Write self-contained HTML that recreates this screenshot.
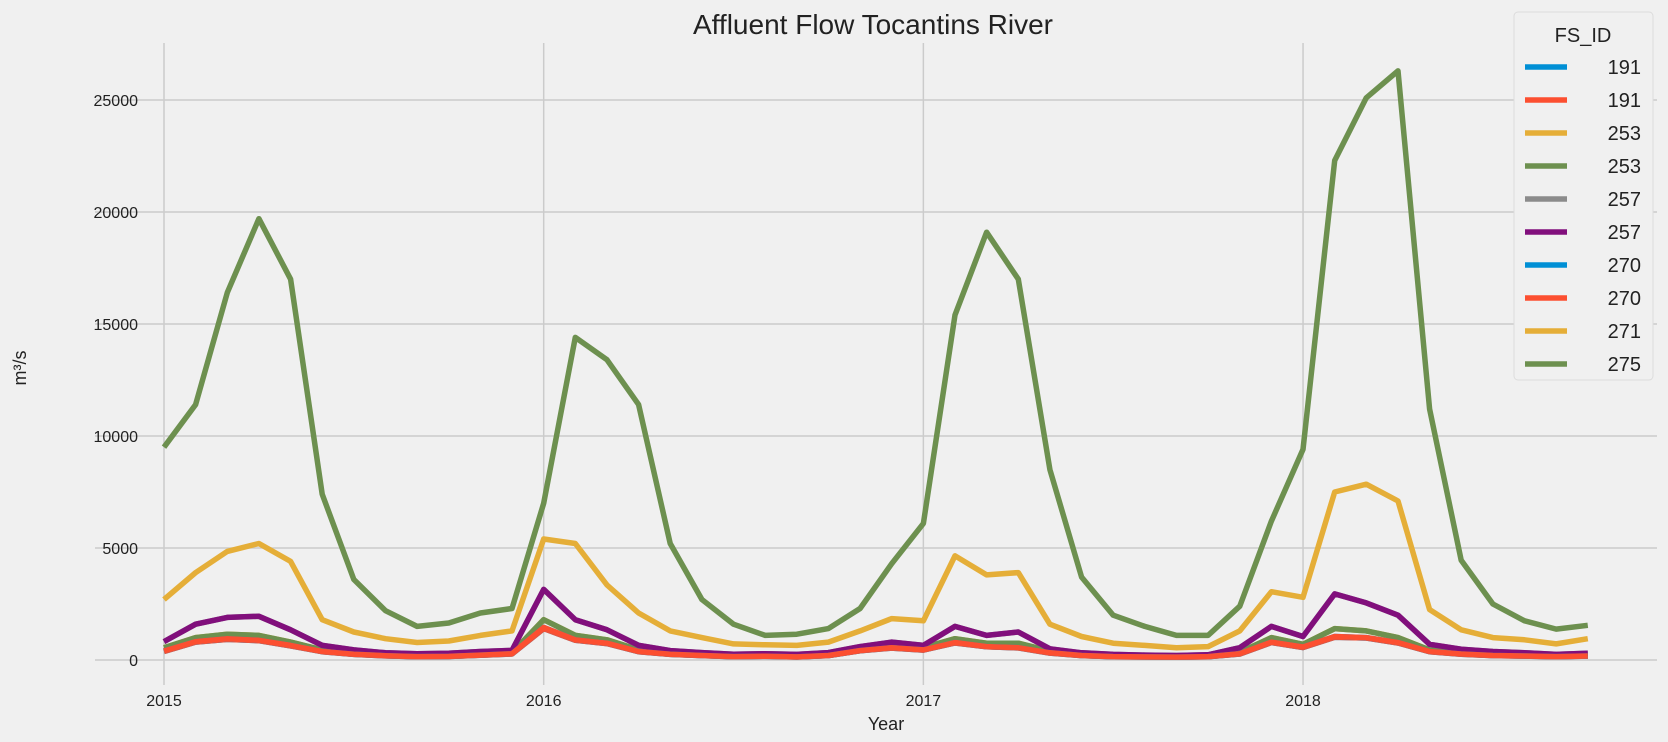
<!DOCTYPE html>
<html><head><meta charset="utf-8"><style>
html,body{margin:0;padding:0;background:#f0f0f0;}
svg{display:block;font-family:"Liberation Sans","DejaVu Sans",sans-serif;}
</style></head><body>
<svg id="chart" width="1668" height="742" xmlns="http://www.w3.org/2000/svg">
<rect width="1668" height="742" fill="#f0f0f0"/>
<text x="873" y="34" font-size="28" text-anchor="middle" fill="#222">Affluent Flow Tocantins River</text>
<g id="grid"></g>
<g id="series"></g>
<text x="886" y="730" font-size="18" text-anchor="middle" fill="#222">Year</text>
<text transform="translate(26,368) rotate(-90)" font-size="18" text-anchor="middle" fill="#222">m³/s</text>
<g id="legend"></g>
</svg>
<script>
const yTicks = [0, 5000, 10000, 15000, 20000, 25000];
const xTickLabels = ["2015", "2016", "2017", "2018"];
const s275 = [9500,11400,16400,19700,17000,7400,3600,2200,1500,1650,2100,2300,
 7000,14400,13400,11400,5200,2700,1600,1100,1150,1400,2300,4300,
 6100,15400,19100,17000,8500,3700,2000,1500,1100,1100,2400,6200,
 9400,22300,25100,26300,11200,4450,2500,1750,1380,1550];
const s271 = [2700,3900,4850,5200,4400,1800,1250,950,780,850,1100,1300,
 5400,5200,3350,2100,1300,1000,720,680,650,800,1300,1850,
 1750,4650,3800,3900,1600,1050,750,650,550,600,1300,3050,
 2800,7500,7850,7100,2250,1350,1000,900,720,950];
const s257 = [820,1600,1900,1950,1350,650,450,320,280,300,380,430,
 3150,1800,1350,650,420,330,260,280,250,330,600,800,
 650,1500,1100,1250,500,320,250,220,200,230,550,1500,
 1050,2950,2550,2000,700,480,380,320,250,300];
const s253 = [550,1000,1150,1100,800,450,300,220,180,190,260,320,
 1800,1100,900,450,300,250,180,200,170,250,500,650,
 550,950,750,750,400,250,180,170,160,180,350,1000,
 700,1400,1300,1000,450,320,250,220,180,220];
const s270 = [400,820,950,880,650,380,260,190,150,160,220,280,
 1450,900,750,380,260,200,150,170,140,200,420,550,
 450,780,600,550,320,200,150,140,130,150,280,800,
 580,1050,1000,780,380,270,200,180,150,180];
const s191 = [380,800,920,860,630,370,250,185,145,155,215,270,
 1400,880,730,370,250,195,145,165,135,195,410,530,
 440,760,590,540,310,195,145,135,125,145,270,780,
 560,1020,980,760,370,260,195,175,145,175];
const legendLabels = ["191","191","253","253","257","257","270","270","271","275"];
const seriesData = [s191, s191, s253, s253, s257, s257, s270, s270, s271, s275];
const colors = ["#008fd5","#fc4f30","#e5ae38","#6d904f","#8b8b8b","#810f7c","#008fd5","#fc4f30","#e5ae38","#6d904f"];

const NS = "http://www.w3.org/2000/svg";
const X0 = 164, MONTH = 31.64, Y0 = 660, YS = 0.0224;
function xs(i){ return X0 + i*MONTH; }
function ys(v){ return Y0 - v*YS; }
const grid = document.getElementById('grid');
yTicks.forEach(t=>{
  const l = document.createElementNS(NS,'line');
  l.setAttribute('x1',95); l.setAttribute('x2',1657);
  l.setAttribute('y1',ys(t)); l.setAttribute('y2',ys(t));
  l.setAttribute('stroke','#cbcbcb'); l.setAttribute('stroke-width','1.5');
  
  
  grid.appendChild(l);
  const tx = document.createElementNS(NS,'text');
  tx.setAttribute('x',138); tx.setAttribute('y',ys(t)+6);
  tx.setAttribute('text-anchor','end'); tx.setAttribute('font-size','16'); tx.setAttribute('fill','#222');
  tx.textContent = t;
  
  
  grid.appendChild(tx);
});
xTickLabels.forEach((lab,k)=>{
  const x = xs(k*12);
  const l = document.createElementNS(NS,'line');
  l.setAttribute('x1',x); l.setAttribute('x2',x);
  l.setAttribute('y1',43); l.setAttribute('y2',685);
  l.setAttribute('stroke','#cbcbcb'); l.setAttribute('stroke-width','1.5');
  
  
  grid.appendChild(l);
  const tx = document.createElementNS(NS,'text');
  tx.setAttribute('x',x); tx.setAttribute('y',706);
  tx.setAttribute('text-anchor','middle'); tx.setAttribute('font-size','16'); tx.setAttribute('fill','#222');
  tx.textContent = lab;
  
  
  grid.appendChild(tx);
});
const sg = document.getElementById('series');
seriesData.forEach((arr,k)=>{
  const p = document.createElementNS(NS,'polyline');
  p.setAttribute('points', arr.map((v,i)=>xs(i).toFixed(1)+','+ys(v).toFixed(1)).join(' '));
  p.setAttribute('fill','none'); p.setAttribute('stroke',colors[k]);
  p.setAttribute('stroke-width','5.5'); p.setAttribute('stroke-linejoin','round');
  
  
  sg.appendChild(p);
});
const lg = document.getElementById('legend');
const box = document.createElementNS(NS,'rect');
box.setAttribute('x',1514); box.setAttribute('y',12); box.setAttribute('width',139); box.setAttribute('height',368);
box.setAttribute('rx',4); box.setAttribute('fill','#f0f0f0'); box.setAttribute('stroke','#dcdcdc');


lg.appendChild(box);
const lt = document.createElementNS(NS,'text');
lt.setAttribute('x',1583); lt.setAttribute('y',42); lt.setAttribute('text-anchor','middle');
lt.setAttribute('font-size','20'); lt.setAttribute('fill','#222'); lt.textContent='FS_ID';


lg.appendChild(lt);
legendLabels.forEach((lab,k)=>{
  const y = 67 + k*33;
  const l = document.createElementNS(NS,'line');
  l.setAttribute('x1',1525); l.setAttribute('x2',1567); l.setAttribute('y1',y); l.setAttribute('y2',y);
  l.setAttribute('stroke',colors[k]); l.setAttribute('stroke-width','5.5');
  
  
  lg.appendChild(l);
  const t = document.createElementNS(NS,'text');
  t.setAttribute('x',1641); t.setAttribute('y',y+7); t.setAttribute('text-anchor','end');
  t.setAttribute('font-size','20'); t.setAttribute('fill','#222'); t.textContent=lab;
  
  
  lg.appendChild(t);
});
</script>
</body></html>
